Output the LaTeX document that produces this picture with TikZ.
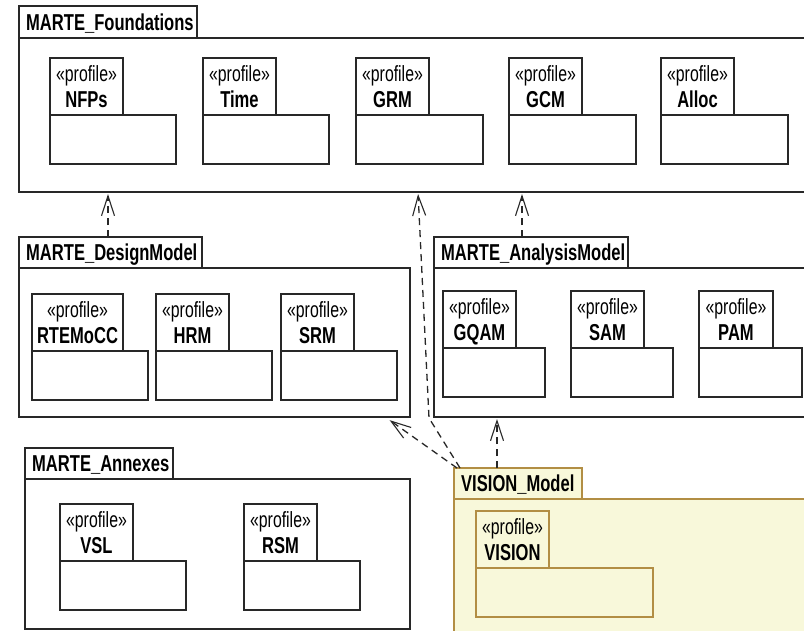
\documentclass[tikz,border=0pt]{standalone}
\usepackage{fontspec}
\setmainfont{Liberation Sans}[FakeStretch=0.72]
\usetikzlibrary{arrows.meta,calc}

\definecolor{pkgline}{RGB}{40,40,40}
\definecolor{visfill}{RGB}{248,248,218}
\definecolor{visline}{RGB}{178,142,68}

\tikzset{
  box/.style={draw=pkgline, line width=1.4pt, fill=white, inner sep=0pt, outer sep=0pt, anchor=north west},
  visbox/.style={box, draw=visline, fill=visfill},
  pkgtitle/.style={font=\fontsize{23}{23}\selectfont\bfseries, anchor=base west, inner sep=0pt},
  stereo/.style={font=\fontsize{22}{22}\selectfont, anchor=base, inner sep=0pt},
  pname/.style={font=\fontsize{23}{23}\selectfont\bfseries, anchor=base, inner sep=0pt},
  dep/.style={draw=pkgline, line width=1.3pt, dash pattern=on 7pt off 5pt,
    shorten >=2pt, -{Straight Barb[length=20pt,width=13pt,line width=1.1pt]}},
}

% package: name, x, y, tab width, tab height, body width, body height, title, style
\newcommand\umlpackage[9]{%
  \node[#9, minimum width=#4pt, minimum height=#5pt] (#1tab) at (#2,#3) {};
  \node[#9, minimum width=#6pt, minimum height=#7pt] (#1) at (#1tab.south west) {};
  \node[pkgtitle] (#1lbl) at ([xshift=7pt, yshift=8pt]#1tab.south west) {#8};
}

% profile: name, x, y, tab width, body width, label, style
\newcommand\umlprofile[7]{%
  \node[#7, minimum width=#4pt, minimum height=57pt] (#1tab) at (#2,#3) {};
  \node[#7, minimum width=#5pt, minimum height=49pt] (#1) at (#1tab.south west) {};
  \node[stereo] (#1st) at ([yshift=-23pt]#1tab.north) {«profile»};
  \node[pname] (#1nm) at ([yshift=-49pt]#1tab.north) {#6};
}

\begin{document}
\begin{tikzpicture}[x=1pt, y=-1pt]
  \useasboundingbox (0,0) rectangle (804,630);
  \clip (0,0) rectangle (804,630);
  \fill[white] (0,0) rectangle (804,630);

  % MARTE_Foundations
  \umlpackage{found}{19}{6}{178}{32}{820}{154}{MARTE\_Foundations}{box}
  \umlprofile{nfps}{50}{58}{73}{126}{NFPs}{box}
  \umlprofile{time}{203}{58}{73}{126}{Time}{box}
  \umlprofile{grm}{356}{58}{73}{127}{GRM}{box}
  \umlprofile{gcm}{509}{58}{73}{127}{GCM}{box}
  \umlprofile{alloc}{661}{58}{73}{127}{Alloc}{box}

  % MARTE_DesignModel
  \umlpackage{dm}{19}{237}{183}{31}{391}{149}{MARTE\_DesignModel}{box}
  \umlprofile{rtemocc}{32}{294}{91}{116}{RTEMoCC}{box}
  \umlprofile{hrm}{156}{294}{73}{116}{HRM}{box}
  \umlprofile{srm}{281}{294}{73}{116}{SRM}{box}

  % MARTE_AnalysisModel
  \umlpackage{am}{434}{237}{194}{31}{420}{149}{MARTE\_AnalysisModel}{box}
  \umlprofile{gqam}{443}{291}{73}{102}{GQAM}{box}
  \umlprofile{sam}{571}{291}{73}{102}{SAM}{box}
  \umlprofile{pam}{699}{291}{74}{103}{PAM}{box}

  % MARTE_Annexes
  \umlpackage{ann}{25}{448}{148}{31}{385}{150}{MARTE\_Annexes}{box}
  \umlprofile{vsl}{60}{504}{73}{126}{VSL}{box}
  \umlprofile{rsm}{244}{504}{73}{116}{RSM}{box}

  % VISION_Model
  \umlpackage{vm}{454}{468}{128}{31}{420}{200}{VISION\_Model}{visbox}
  \umlprofile{vision}{476}{511}{73}{177}{VISION}{visbox}

  % dependencies
  \coordinate (dmup) at ([xshift=89pt]dmtab.north west);
  \draw[dep] (dmup) -- (dmup |- found.south);

  \coordinate (amup) at ([xshift=88pt]amtab.north west);
  \draw[dep] (amup) -- (amup |- found.south);

  \coordinate (vmA) at ([xshift=6pt]vmtab.north west);
  \coordinate (vmbend) at ([xshift=-5pt,yshift=-1pt]am.south west);
  \coordinate (fndV) at ([xshift=399pt]found.south west);
  \draw[dep] (vmA) -- (vmbend) -- (fndV);

  \coordinate (vmB) at ([xshift=3pt]vmtab.north west);
  \coordinate (dmV) at ([xshift=-22pt,yshift=-2pt]dm.south east);
  \draw[dep] (vmB) -- (dmV);

  \coordinate (vmC) at ([xshift=43pt]vmtab.north west);
  \draw[dep] (vmC) -- (vmC |- am.south);
\end{tikzpicture}
\end{document}
